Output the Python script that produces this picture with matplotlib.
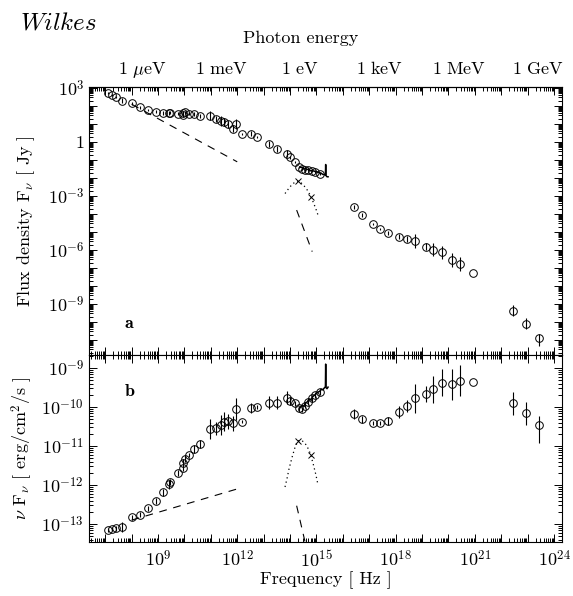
import numpy as np
import matplotlib
matplotlib.use('Agg')
import matplotlib.pyplot as plt
from matplotlib.ticker import LogLocator, FuncFormatter, NullLocator, NullFormatter

plt.rcParams['font.family'] = 'serif'
plt.rcParams['font.serif'] = ['cmr10', 'DejaVu Serif']
plt.rcParams['mathtext.fontset'] = 'cm'
plt.rcParams['axes.unicode_minus'] = False
plt.rcParams['axes.formatter.use_mathtext'] = True

# observed points: log10 frequency [Hz], log10 nu F_nu [erg/cm2/s], error [dex]
radio_lognu = [7.12, 7.27, 7.41, 7.63, 8.03, 8.32, 8.63, 8.92, 9.20, 9.43, 9.45, 9.75,
               9.94, 9.96, 10.02, 10.19, 10.38, 10.59, 10.97, 11.19, 11.37, 11.50, 11.64,
               11.85, 11.95, 12.17, 12.51, 12.74, 13.22, 13.52, 13.88, 14.00, 14.19,
               14.34, 14.44, 14.57, 14.69, 14.82, 14.95, 15.14]
radio_lognufnu = [-13.15, -13.13, -13.11, -13.07, -12.83, -12.76, -12.60, -12.40, -12.19,
                  -11.98, -11.92, -11.69, -11.57, -11.44, -11.32, -11.23, -11.08, -10.95,
                  -10.56, -10.55, -10.47, -10.38, -10.37, -10.42, -10.06, -10.38, -10.03,
                  -9.99, -9.89, -9.89, -9.76, -9.85, -9.91, -10.03, -10.06, -9.97, -9.86,
                  -9.78, -9.69, -9.61]
radio_err = [0.06, 0.06, 0.06, 0.13, 0.06, 0.06, 0.06, 0.08, 0.1, 0.11, 0.08, 0.08,
             0.08, 0.1, 0.08, 0.06, 0.1, 0.1, 0.26, 0.17, 0.26, 0.24, 0.2, 0.2, 0.28,
             0.04, 0.13, 0.05, 0.17, 0.17, 0.17, 0.1, 0.06, 0.06, 0.06, 0.06, 0.08,
             0.08, 0.08, 0.08]

xray_lognu = [16.42, 16.72, 17.13, 17.41, 17.72, 18.13, 18.42, 18.73, 19.14, 19.43,
              19.75, 20.13, 20.44, 20.92]
xray_lognufnu = [-10.19, -10.32, -10.42, -10.42, -10.35, -10.12, -9.97, -9.78, -9.67,
                 -9.55, -9.38, -9.42, -9.33, -9.37]
xray_err = [0.13, 0.1, 0.05, 0.05, 0.1, 0.15, 0.15, 0.38, 0.2, 0.35, 0.35, 0.4, 0.4, 0.0]

gamma_lognu = [22.46, 22.93, 23.44]
gamma_lognufnu = [-9.91, -10.16, -10.46]
gamma_err_lo = [0.3, 0.3, 0.45]
gamma_err_hi = [0.3, 0.3, 0.22]

# optical/UV spectrum
spec_lognu = [14.38, 14.45, 14.52, 14.58, 14.65, 14.72, 14.78, 14.85, 14.92, 14.99,
              15.05, 15.12, 15.18, 15.24, 15.30, 15.34, 15.35, 15.36, 15.40, 15.44]
spec_lognufnu = [-10.02, -9.96, -9.98, -9.90, -9.87, -9.80, -9.82, -9.74, -9.70, -9.66,
                 -9.62, -9.60, -9.55, -9.56, -9.51, -9.48, -8.90, -9.50, -9.53, -9.49]

# model components
sync_lognu = [8.0, 12.0]
sync_lognufnu = [-12.9, -12.1]
steep_lognu = [14.25, 14.84]
steep_lognufnu = [-12.53, -14.25]
bump_lognu = [13.81, 13.89, 13.96, 14.08, 14.19, 14.30, 14.42, 14.53, 14.64, 14.76,
              14.87, 14.98, 15.06]
bump_lognufnu = [-12.05, -11.82, -11.59, -11.28, -11.03, -10.87, -10.85, -10.90, -11.00,
                 -11.18, -11.44, -11.74, -12.0]
cross_lognu = [14.31, 14.80]
cross_lognufnu = [-10.87, -11.23]

energy_ev = [1e-6, 1e-3, 1.0, 1e3, 1e6, 1e9]
energy_labels = [r'$\mathrm{1\ \mu eV}$', r'$\mathrm{1\ meV}$', r'$\mathrm{1\ eV}$',
                 r'$\mathrm{1\ keV}$', r'$\mathrm{1\ MeV}$', r'$\mathrm{1\ GeV}$']
HZ_PER_EV = 2.418e14


def fnu(lognu, lognufnu):
    # nu F_nu [erg/cm2/s] -> F_nu [Jy]
    return np.array(lognufnu) - np.array(lognu) + 23


def errbar(ax, lognu, logy, lo, hi):
    lognu = np.array(lognu); logy = np.array(logy)
    lo = np.array(lo); hi = np.array(hi)
    y = 10 ** logy
    yerr = [y - 10 ** (logy - lo), 10 ** (logy + hi) - y]
    ax.errorbar(10 ** lognu, y, yerr=yerr, fmt='o', ms=5.5, mfc='none', mec='k',
                mew=0.7, ecolor='k', elinewidth=0.8, capsize=0)


def draw(ax, conv):
    errbar(ax, radio_lognu, conv(radio_lognu, radio_lognufnu), radio_err, radio_err)
    errbar(ax, xray_lognu, conv(xray_lognu, xray_lognufnu), xray_err, xray_err)
    errbar(ax, gamma_lognu, conv(gamma_lognu, gamma_lognufnu), gamma_err_lo, gamma_err_hi)
    ax.plot(10 ** np.array(spec_lognu), 10 ** conv(spec_lognu, spec_lognufnu), 'k-', lw=1.1)
    ax.plot(10 ** np.array(sync_lognu), 10 ** conv(sync_lognu, sync_lognufnu), 'k',
            ls=(0, (7, 6)), lw=0.8)
    ax.plot(10 ** np.array(steep_lognu), 10 ** conv(steep_lognu, steep_lognufnu), 'k',
            ls=(0, (7, 6)), lw=0.8)
    ax.plot(10 ** np.array(bump_lognu), 10 ** conv(bump_lognu, bump_lognufnu), 'k',
            ls=(0, (1, 2.5)), lw=0.9)
    ax.plot(10 ** np.array(cross_lognu), 10 ** conv(cross_lognu, cross_lognufnu), 'kx',
            ms=4, mew=0.7)


def exp_label(keep, one=False):
    def f(v, pos):
        e = int(round(np.log10(v)))
        if not keep(e):
            return ''
        if one and e == 0:
            return '1'
        return r'$10^{%d}$' % e
    return FuncFormatter(f)


fig = plt.figure(figsize=(5.73, 5.96), dpi=100)
ax1 = fig.add_axes([89 / 573, 1 - 355 / 596, 473 / 573, 268 / 596])
ax2 = fig.add_axes([89 / 573, 1 - 542 / 596, 473 / 573, 187 / 596], sharex=ax1)

draw(ax1, fnu)
draw(ax2, lambda a, b: np.array(b))

for ax in (ax1, ax2):
    ax.set_xscale('log')
    ax.set_yscale('log')
    ax.xaxis.set_major_locator(LogLocator(base=10, subs=(1.0,), numticks=40))
    ax.xaxis.set_minor_locator(LogLocator(base=10, subs=np.arange(2, 10), numticks=40))
    ax.yaxis.set_major_locator(LogLocator(base=10, subs=(1.0,), numticks=40))
    ax.yaxis.set_minor_locator(LogLocator(base=10, subs=np.arange(2, 10), numticks=40))
    ax.xaxis.set_minor_formatter(NullFormatter())
    ax.yaxis.set_minor_formatter(NullFormatter())
    ax.tick_params(which='both', direction='in', top=True, right=True, width=0.7,
                   labelsize=13)
    ax.tick_params(which='major', length=6)
    ax.tick_params(which='minor', length=3)
    for s in ax.spines.values():
        s.set_linewidth(0.8)

ax1.set_xlim(10 ** 6.386, 10 ** 24.30)
ax1.set_ylim(10 ** -11.83, 10 ** 3.056)
ax2.set_ylim(10 ** -13.46, 10 ** -8.667)

ax1.tick_params(labelbottom=False)
ax1.yaxis.set_major_formatter(exp_label(lambda e: e % 3 == 0 and -12 < e < 4, one=True))
ax2.yaxis.set_major_formatter(exp_label(lambda e: -14 < e < -8))
ax2.xaxis.set_major_formatter(exp_label(lambda e: e % 3 == 0 and 6 < e < 25))
ax2.tick_params(axis='x', pad=5)

sec = ax1.secondary_xaxis('top', functions=(lambda nu: nu / HZ_PER_EV,
                                            lambda e: e * HZ_PER_EV))
sec.set_xticks(energy_ev, labels=energy_labels)
sec.xaxis.set_minor_locator(NullLocator())
sec.tick_params(length=0, pad=9, labelsize=13)
for lab in sec.get_xticklabels():
    lab.set_verticalalignment('baseline')

ax1.set_ylabel(r'Flux density F$_\nu$ [ Jy ]', fontsize=13)
ax2.set_ylabel(r'$\nu$ F$_\nu$ [ erg/cm$^2$/s ]', fontsize=13)
ax1.yaxis.set_label_coords(-0.11, 0.5)
ax2.yaxis.set_label_coords(-0.115, 0.5)
ax2.set_xlabel('Frequency [ Hz ]', fontsize=13, labelpad=1)

ax1.text(0.074, 0.10, r'$\mathbf{a}$', transform=ax1.transAxes, fontsize=13)
ax2.text(0.074, 0.78, r'$\mathbf{b}$', transform=ax2.transAxes, fontsize=13)

fig.text(0.525, 0.928, 'Photon energy', ha='center', fontsize=13)
fig.text(0.035, 0.95, r'$Wilkes$', fontsize=18)

fig.savefig('out.png', dpi=100)
